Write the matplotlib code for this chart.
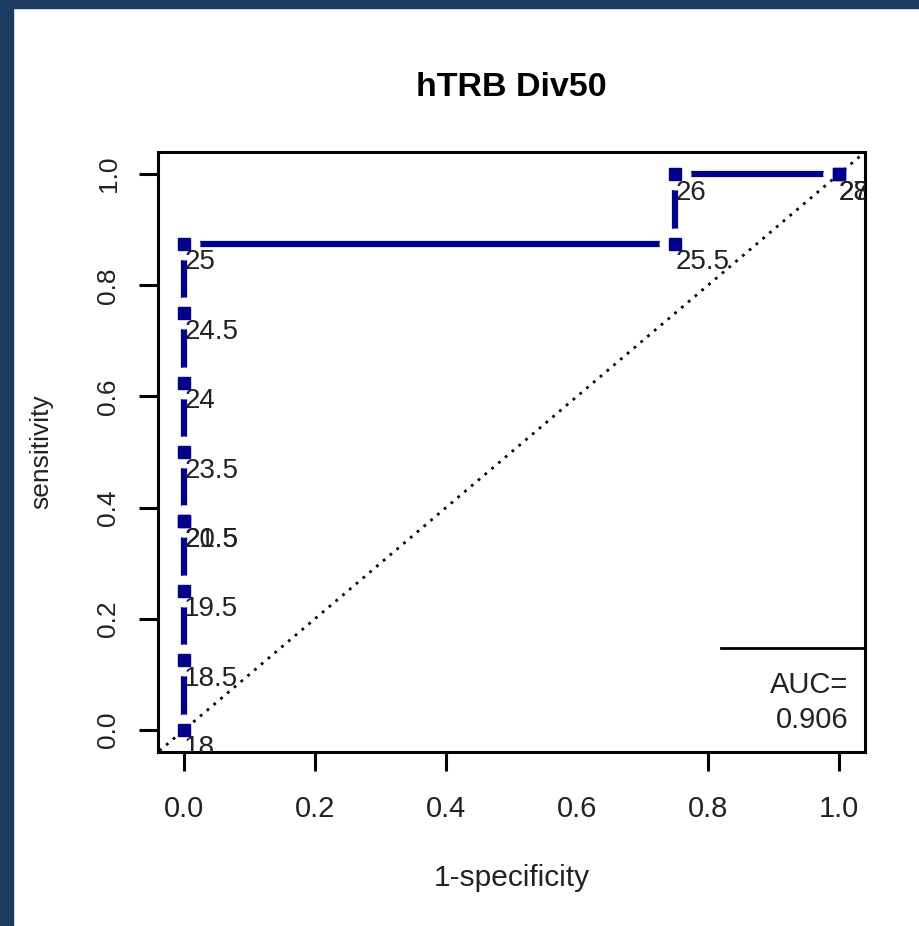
import matplotlib
matplotlib.use('Agg')
import matplotlib.pyplot as plt
from matplotlib.patches import Rectangle

# ROC points (1-specificity, sensitivity) with cutoff labels
fpr = [0.0, 0.0, 0.0, 0.0, 0.0, 0.0, 0.0, 0.0, 0.0, 0.75, 0.75, 1.0, 1.0]
tpr = [0.0, 0.125, 0.25, 0.375, 0.375, 0.5, 0.625, 0.75, 0.875, 0.875, 1.0, 1.0, 1.0]
cutoffs = ['18', '18.5', '19.5', '20.5', '21.5', '23.5', '24', '24.5', '25',
           '25.5', '26', '27', '28']
auc_label = 'AUC='
auc_value = '0.906'
tick_vals = [0.0, 0.2, 0.4, 0.6, 0.8, 1.0]
tick_labels = ['0.0', '0.2', '0.4', '0.6', '0.8', '1.0']

plt.rcParams['font.family'] = ['Liberation Sans', 'DejaVu Sans']
line_col = '#00008B'
txt_col = '#222222'

fig = plt.figure(figsize=(9.19, 9.26), dpi=100)
fig.patch.set_facecolor('white')
# navy frame strips on top and left edges
fig.patches.append(Rectangle((0, 0), 13 / 919, 1, transform=fig.transFigure,
                             color='#1a3a5f', zorder=0))
fig.patches.append(Rectangle((0, 1 - 8 / 926), 1, 8 / 926, transform=fig.transFigure,
                             color='#1a3a5f', zorder=0))

ax = fig.add_axes([158 / 919, 1 - 752 / 926, 707 / 919, 600 / 926])
ax.set_xlim(-0.04, 1.04)
ax.set_ylim(-0.04, 1.04)

# ROC step curve with gaps around the points (R type="b")
ax.plot(fpr, tpr, color=line_col, lw=4.5, solid_capstyle='butt', zorder=2)
ax.plot(fpr, tpr, ls='none', marker='o', ms=22, mfc='white', mec='white', zorder=3)
ax.plot(fpr, tpr, ls='none', marker='s', ms=8, color=line_col, zorder=5)

# chance diagonal
ax.plot([-0.1, 1.1], [-0.1, 1.1], color='black', lw=2, ls=(0, (1, 2.2)), zorder=4)

for x, y, lab in zip(fpr, tpr, cutoffs):
    ax.annotate(lab, (x, y), xytext=(0, -4), textcoords='offset points',
                ha='left', va='top', fontsize=20, color=txt_col,
                annotation_clip=False, clip_on=True, zorder=6)

# AUC legend
ax.plot([0.82, 1.04], [0.148, 0.148], color='black', lw=2, zorder=5)
ax.text(1.015, 0.081, auc_label, ha='right', va='center', fontsize=21, color=txt_col)
ax.text(1.015, 0.018, auc_value, ha='right', va='center', fontsize=21, color=txt_col)

ax.set_xticks(tick_vals)
ax.set_xticklabels(tick_labels, fontsize=21)
ax.set_yticks(tick_vals)
ax.set_yticklabels(tick_labels, rotation=90, va='center', fontsize=19)
ax.tick_params(length=14, width=2.2, colors='black', labelcolor=txt_col)
ax.tick_params(axis='x', pad=17)
ax.tick_params(axis='y', pad=13)
ax.xaxis.get_major_ticks()[3].tick1line.set_visible(False)
for s in ax.spines.values():
    s.set_linewidth(2.2)

ax.set_title('hTRB Div50', fontsize=24.5, fontweight='bold', pad=40)
ax.set_xlabel('1-specificity', fontsize=21.5, color=txt_col)
ax.set_ylabel('sensitivity', fontsize=19, color=txt_col)
ax.xaxis.set_label_coords(0.5, -0.21)
ax.yaxis.set_label_coords(-0.165, 0.5)
ax.xaxis.label.set_va('center')
ax.yaxis.label.set_va('center')

fig.savefig('out.png', dpi=100, facecolor='white')
